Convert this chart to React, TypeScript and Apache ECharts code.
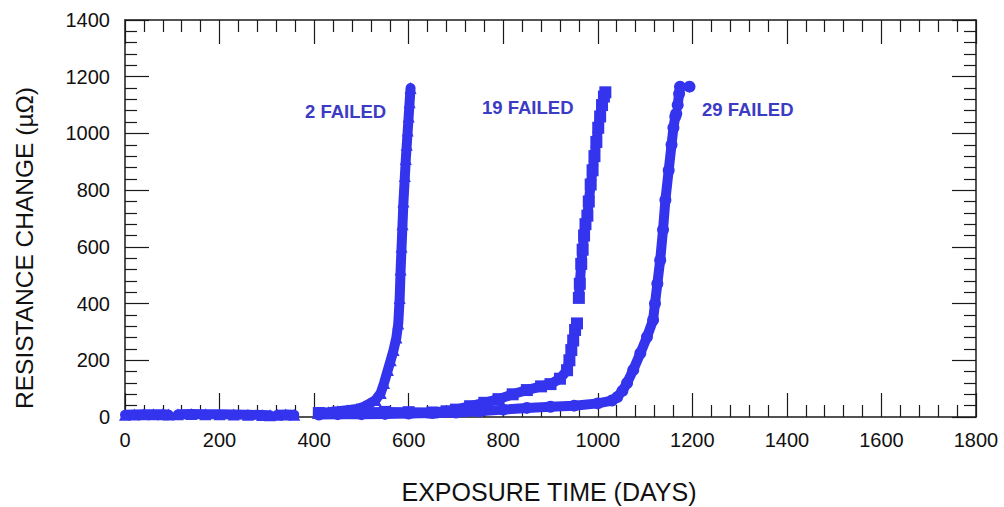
import React, { useEffect, useRef } from "react";
import * as echarts from "echarts";

type Pt = [number, number | string];

// Tick labels / axis ranges
const xTicks = [0, 200, 400, 600, 800, 1000, 1200, 1400, 1600, 1800];
const yTicks = [0, 200, 400, 600, 800, 1000, 1200, 1400];

const xTitle = "EXPOSURE TIME (DAYS)";
const yTitle = "RESISTANCE CHANGE (\u00b5\u03a9)";
const seriesNames = ["2 FAILED", "19 FAILED", "29 FAILED"];

// Series "2 FAILED" (triangles) - '-' marks a gap in the record
const failed2: Pt[] = [
  [0, 8], [20, 9], [40, 10], [60, 10], [80, 10], [92, 9], [95, "-"],
  [112, 10], [140, 11], [170, 10], [200, 10], [230, 9], [260, 8], [290, 7], [307, 6], [312, "-"],
  [322, 8], [340, 9], [358, 8], [370, "-"],
  [408, 15], [430, 17], [450, 20], [470, 24], [490, 28], [505, 36], [515, 45], [530, 60],
  [541, 85], [548, 120], [556, 166], [562, 200], [568, 236], [574, 280], [578, 330],
  [581, 420], [583, 520], [585, 600], [587, 680], [589, 760], [592, 850], [594, 910],
  [596, 960], [598, 1010], [600, 1060], [602, 1110], [604, 1160],
];

// Series "19 FAILED" (squares)
const failed19: Pt[] = [
  [410, 14], [450, 15], [500, 17], [550, 18], [600, 17], [650, 16], [680, 20],
  [700, 26], [730, 38], [760, 50], [790, 63], [820, 80], [850, 95], [880, 108],
  [900, 116], [920, 135], [935, 165], [940, 200], [942, "-"],
  [944, 236], [948, 270], [952, 307], [956, 330], [958, "-"],
  [960, 420], [962, 470], [965, 540], [968, 590], [971, 640], [974, 680], [976, "-"],
  [978, 710], [981, 760], [985, 820], [989, 870], [993, 920], [997, 970],
  [1001, 1020], [1005, 1060], [1009, 1100], [1013, 1130], [1016, 1145],
];

// Series "29 FAILED" (circles)
const failed29: Pt[] = [
  [410, 9], [450, 10], [500, 10], [550, 11], [600, 12], [650, 14], [700, 16],
  [750, 20], [800, 26], [850, 32], [900, 36], [950, 40], [1000, 48], [1030, 58],
  [1041, 70], [1052, 92], [1062, 120], [1075, 166], [1090, 225], [1104, 282],
  [1117, 342], [1121, 400], [1126, 470], [1132, 553], [1138, 660], [1143, 765],
  [1150, 870], [1156, 960], [1160, 1020], [1164, 1060], [1166, 1070], [1167, "-"],
  [1169, 1100], [1172, 1140], [1174, 1165], [1176, "-"],
  [1194, 1165],
];

const BLUE = "#3434ee";
const LABEL_BLUE = "#3b3bc4";
const FONT = "'Liberation Sans', Arial, Helvetica, sans-serif";

export default function App() {
  const ref = useRef<HTMLDivElement>(null);

  useEffect(() => {
    if (!ref.current) return;
    const chart = echarts.init(ref.current, null, { renderer: "svg" });

    const xMin = xTicks[0];
    const xMax = xTicks[xTicks.length - 1];
    const xInt = xTicks[1] - xTicks[0];
    const yMin = yTicks[0];
    const yMax = yTicks[yTicks.length - 1];
    const yInt = yTicks[1] - yTicks[0];

    const axisLine = { show: true, onZero: false, lineStyle: { color: "#1a1a1a", width: 1.5 } };
    const axisTick = { show: true, inside: true, length: 24, lineStyle: { color: "#1a1a1a", width: 1.2 } };
    const minorTick = { show: true, splitNumber: 5, length: 12, lineStyle: { color: "#1a1a1a", width: 1.2 } };
    const plain = (v: number) => String(v);

    const mkSeries = (name: string, data: Pt[], symbol: string, size: number) => ({
      name,
      type: "line",
      xAxisIndex: 0,
      yAxisIndex: 0,
      data,
      symbol,
      symbolSize: size,
      showSymbol: true,
      showAllSymbol: true,
      connectNulls: false,
      lineStyle: { color: BLUE, width: 10, cap: "round", join: "round" },
      itemStyle: { color: BLUE, borderWidth: 0 },
      emphasis: { disabled: true },
    });

    chart.setOption({
      animation: false,
      backgroundColor: "#ffffff",
      grid: { left: 125, top: 20, width: 851, height: 397, containLabel: false },
      xAxis: [
        {
          type: "value", position: "bottom", min: xMin, max: xMax, interval: xInt,
          axisLine, axisTick, minorTick,
          splitLine: { show: false },
          axisLabel: { show: true, margin: 13, color: "#111", fontSize: 20, fontFamily: FONT, formatter: plain },
        },
        {
          type: "value", position: "top", min: xMin, max: xMax, interval: xInt,
          axisLine, axisTick, minorTick,
          splitLine: { show: false },
          axisLabel: { show: false },
        },
      ],
      yAxis: [
        {
          type: "value", position: "left", min: yMin, max: yMax, interval: yInt,
          axisLine, axisTick, minorTick,
          splitLine: { show: false },
          axisLabel: { show: true, margin: 15, color: "#111", fontSize: 20, fontFamily: FONT, formatter: plain },
        },
        {
          type: "value", position: "right", min: yMin, max: yMax, interval: yInt,
          axisLine, axisTick, minorTick,
          splitLine: { show: false },
          axisLabel: { show: false },
        },
      ],
      series: [
        mkSeries(seriesNames[0], failed2, "triangle", 12),
        mkSeries(seriesNames[1], failed19, "rect", 12),
        mkSeries(seriesNames[2], failed29, "circle", 12),
      ],
      graphic: [
        {
          type: "text", x: 549, y: 492,
          style: { text: xTitle, font: `25px ${FONT}`, fill: "#111", align: "center", verticalAlign: "middle" },
        },
        {
          type: "text", x: 24, y: 248, rotation: Math.PI / 2,
          style: { text: yTitle, font: `24.5px ${FONT}`, fill: "#111", align: "center", verticalAlign: "middle" },
        },
        {
          type: "text", x: 305, y: 111,
          style: { text: seriesNames[0], font: `bold 18.5px ${FONT}`, fill: LABEL_BLUE, align: "left", verticalAlign: "middle" },
        },
        {
          type: "text", x: 482, y: 107,
          style: { text: seriesNames[1], font: `bold 18.5px ${FONT}`, fill: LABEL_BLUE, align: "left", verticalAlign: "middle" },
        },
        {
          type: "text", x: 702, y: 109,
          style: { text: seriesNames[2], font: `bold 18.5px ${FONT}`, fill: LABEL_BLUE, align: "left", verticalAlign: "middle" },
        },
      ],
    });

    return () => chart.dispose();
  }, []);

  return (
    <div
      ref={ref}
      style={{ position: "absolute", left: 0, top: 0, width: 1004, height: 507, background: "#fff" }}
    />
  );
}
